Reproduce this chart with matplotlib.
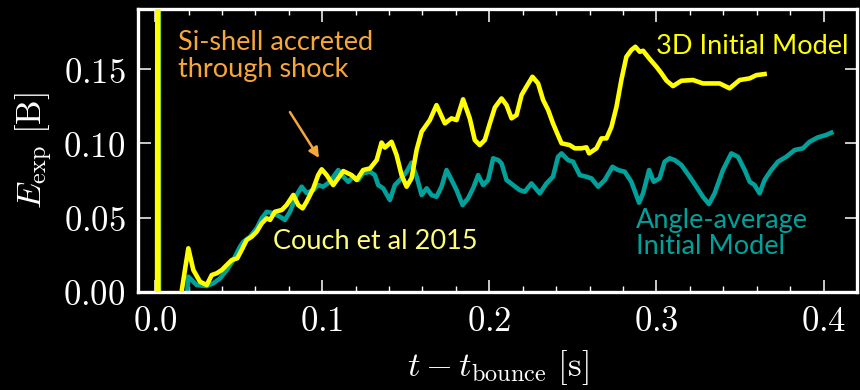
import matplotlib
matplotlib.use("Agg")
import matplotlib.pyplot as plt
from matplotlib.ticker import FuncFormatter, MultipleLocator

plt.rcParams.update(
    {
        "mathtext.fontset": "cm",
        "font.family": "DejaVu Sans",
        "axes.unicode_minus": False,
    }
)

# explosion energy, 3D progenitor (spike at bounce runs off the top)
t_3d = [
    0.0012, 0.0016, 0.0020, 0.0155, 0.0160, 0.0199, 0.0229, 0.0269, 0.0309, 0.0339,
    0.0369, 0.0399, 0.0429, 0.0459, 0.0492, 0.0518, 0.0548, 0.0578, 0.0608, 0.0638,
    0.0668, 0.0688, 0.0717, 0.0758, 0.0787, 0.0827, 0.0857, 0.0883, 0.0907, 0.0947,
    0.0976, 0.0997, 0.1027, 0.1066, 0.1126, 0.1176, 0.1206, 0.1245, 0.1286, 0.1326,
    0.1355, 0.1375, 0.1415, 0.1445, 0.1475, 0.1505, 0.1535, 0.1565, 0.1595, 0.1644,
    0.1684, 0.1734, 0.1774, 0.1804, 0.1843, 0.1883, 0.1913, 0.1943, 0.1973, 0.2003,
    0.2033, 0.2073, 0.2103, 0.2133, 0.2163, 0.2193, 0.2222, 0.2258, 0.2292, 0.2322,
    0.2352, 0.2381, 0.2402, 0.2432, 0.2481, 0.2511, 0.2551, 0.2581, 0.2597, 0.2641,
    0.2671, 0.2701, 0.2731, 0.2761, 0.2790, 0.2820, 0.2850, 0.2874, 0.2900, 0.2920,
    0.2960, 0.3000, 0.3030, 0.3060, 0.3099, 0.3149, 0.3219, 0.3278, 0.3378, 0.3438,
    0.3498, 0.3558, 0.3598, 0.3647,
]
e_3d = [
    -0.02, 0.60, -0.02, -0.02, 0.0013, 0.0294, 0.0148, 0.0069, 0.0047, 0.0114,
    0.0126, 0.0148, 0.0182, 0.0215, 0.0227, 0.0283, 0.0350, 0.0372, 0.0406, 0.0462,
    0.0496, 0.0485, 0.0540, 0.0552, 0.0585, 0.0653, 0.0585, 0.0563, 0.0608, 0.0698,
    0.0787, 0.0826, 0.0787, 0.0720, 0.0814, 0.0787, 0.0754, 0.0821, 0.0832, 0.0888,
    0.1006, 0.0972, 0.1011, 0.0922, 0.0787, 0.0709, 0.0767, 0.0956, 0.1079, 0.1157,
    0.1258, 0.1135, 0.1169, 0.1157, 0.1297, 0.1169, 0.1023, 0.0989, 0.1023, 0.1135,
    0.1242, 0.1303, 0.1258, 0.1169, 0.1191, 0.1326, 0.1382, 0.1449, 0.1404, 0.1292,
    0.1225, 0.1135, 0.1079, 0.1001, 0.0989, 0.0967, 0.0967, 0.0974, 0.0933, 0.0967,
    0.1034, 0.1034, 0.1112, 0.1247, 0.1427, 0.1583, 0.1629, 0.1651, 0.1617, 0.1624,
    0.1568, 0.1516, 0.1472, 0.1423, 0.1386, 0.1422, 0.1427, 0.1404, 0.1404, 0.1371,
    0.1427, 0.1438, 0.1460, 0.1467,
]

# explosion energy, angle-averaged progenitor
t_avg = [
    0.0018, 0.0021, 0.0024, 0.0180, 0.0199, 0.0249, 0.0309, 0.0349, 0.0389, 0.0429,
    0.0468, 0.0508, 0.0528, 0.0568, 0.0608, 0.0638, 0.0668, 0.0707, 0.0747, 0.0777,
    0.0807, 0.0847, 0.0877, 0.0907, 0.0947, 0.0976, 0.1006, 0.1046, 0.1096, 0.1126,
    0.1156, 0.1186, 0.1216, 0.1245, 0.1286, 0.1315, 0.1335, 0.1365, 0.1405, 0.1435,
    0.1465, 0.1505, 0.1535, 0.1565, 0.1595, 0.1625, 0.1654, 0.1684, 0.1714, 0.1744,
    0.1774, 0.1804, 0.1840, 0.1873, 0.1903, 0.1933, 0.1963, 0.1993, 0.2023, 0.2053,
    0.2073, 0.2103, 0.2142, 0.2182, 0.2212, 0.2252, 0.2302, 0.2342, 0.2381, 0.2411,
    0.2432, 0.2471, 0.2501, 0.2541, 0.2581, 0.2611, 0.2651, 0.2691, 0.2737, 0.2770,
    0.2810, 0.2850, 0.2896, 0.2920, 0.2956, 0.2984, 0.3019, 0.3049, 0.3079, 0.3109,
    0.3149, 0.3199, 0.3239, 0.3278, 0.3314, 0.3348, 0.3398, 0.3448, 0.3488, 0.3528,
    0.3558, 0.3587, 0.3617, 0.3647, 0.3687, 0.3727, 0.3777, 0.3827, 0.3876, 0.3916,
    0.3966, 0.4016, 0.4046,
]
e_avg = [
    -0.02, 0.60, -0.02, -0.02, 0.0103, 0.0047, 0.0040, 0.0059, 0.0092, 0.0148,
    0.0215, 0.0305, 0.0338, 0.0372, 0.0429, 0.0496, 0.0540, 0.0530, 0.0507, 0.0485,
    0.0540, 0.0653, 0.0709, 0.0666, 0.0686, 0.0720, 0.0709, 0.0742, 0.0821, 0.0776,
    0.0742, 0.0776, 0.0754, 0.0799, 0.0810, 0.0787, 0.0720, 0.0698, 0.0619, 0.0720,
    0.0754, 0.0810, 0.0871, 0.0776, 0.0653, 0.0698, 0.0653, 0.0641, 0.0709, 0.0821,
    0.0754, 0.0686, 0.0585, 0.0631, 0.0698, 0.0787, 0.0720, 0.0754, 0.0900, 0.0888,
    0.0866, 0.0754, 0.0720, 0.0686, 0.0675, 0.0731, 0.0664, 0.0731, 0.0776, 0.0910,
    0.0933, 0.0888, 0.0877, 0.0787, 0.0776, 0.0765, 0.0709, 0.0754, 0.0843, 0.0821,
    0.0810, 0.0742, 0.0601, 0.0664, 0.0821, 0.0742, 0.0765, 0.0877, 0.0900, 0.0888,
    0.0855, 0.0776, 0.0709, 0.0641, 0.0592, 0.0664, 0.0821, 0.0933, 0.0910, 0.0821,
    0.0742, 0.0720, 0.0664, 0.0754, 0.0821, 0.0877, 0.0910, 0.0956, 0.0967, 0.1011,
    0.1041, 0.1057, 0.1072,
]

yellow = "#ffff00"
teal = "#00a19b"
orange = "#f6a73a"
pale = "#ffff7a"
fg = "white"

fig = plt.figure(figsize=(8.6, 3.9), dpi=100, facecolor="black")
ax = fig.add_axes([0.1605, 0.2513, 0.836, 0.7256], facecolor="black")

ax.plot(t_avg, e_avg, color=teal, lw=3.3, solid_joinstyle="round", zorder=2)
ax.plot(t_3d, e_3d, color=yellow, lw=3.3, solid_joinstyle="round", zorder=3)

ax.set_xlim(-0.0102, 0.420)
ax.set_ylim(0.0, 0.1905)

ax.xaxis.set_major_locator(MultipleLocator(0.1))
ax.xaxis.set_minor_locator(MultipleLocator(0.02))
ax.yaxis.set_major_locator(MultipleLocator(0.05))
ax.xaxis.set_major_formatter(FuncFormatter(lambda v, _: f"${v:.1f}$"))
ax.yaxis.set_major_formatter(FuncFormatter(lambda v, _: f"${v:.2f}$"))

ax.tick_params(which="both", direction="in", top=True, right=True, colors=fg,
               labelsize=25)
ax.tick_params(which="major", length=9, width=1.1, pad=9)
ax.tick_params(which="minor", length=4.5, width=1.0)
for sp in ax.spines.values():
    sp.set_color(fg)
    sp.set_linewidth(2.4)

ax.set_xlabel(r"$t - t_{\rm bounce}\ [{\rm s}]$", color=fg, fontsize=25, labelpad=7)
ax.set_ylabel(r"$E_{\rm exp}\ [{\rm B}]$", color=fg, fontsize=25, labelpad=6)

txt = dict(family="Lato", fontsize=19.5, va="top", ha="left")
ax.text(0.0138, 0.1765, "Si-shell accreted\nthrough shock", color=orange,
        linespacing=1.12, **txt)
ax.annotate("", xy=(0.0981, 0.0902), xytext=(0.0807, 0.1211),
            arrowprops=dict(arrowstyle="-|>", color=orange, lw=1.8,
                            mutation_scale=15, shrinkA=0, shrinkB=0))
ax.text(0.300, 0.1735, "3D Initial Model", color=yellow, **txt)
ax.text(0.0706, 0.0425, "Couch et al 2015", color=pale, **txt)
ax.text(0.2876, 0.0565, "Angle-average\nInitial Model", color=teal,
        linespacing=1.05, **txt)

fig.savefig("out.png", dpi=100, facecolor="black")
